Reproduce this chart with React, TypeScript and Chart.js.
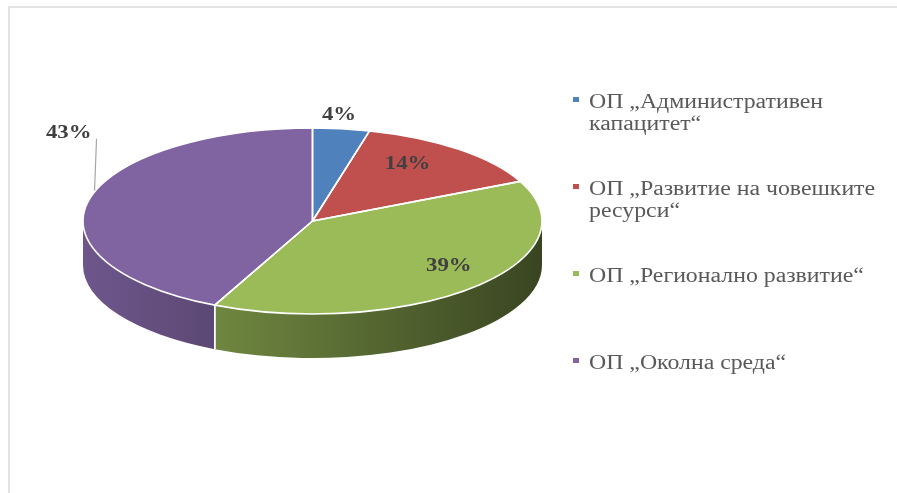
import React, { useEffect, useRef } from "react";
import { Chart, registerables } from "chart.js";

Chart.register(...registerables);

// ---- data ----
const categories = [
  "ОП „Административен капацитет“",
  "ОП „Развитие на човешките ресурси“",
  "ОП „Регионално развитие“",
  "ОП „Околна среда“",
];
const legendLines = [
  ["ОП „Административен", "капацитет“"],
  ["ОП „Развитие на човешките", "ресурси“"],
  ["ОП „Регионално развитие“"],
  ["ОП „Околна среда“"],
];
const shares = [4, 14, 39, 43];
const sliceColors = ["#4F81BD", "#C0504D", "#9BBB59", "#8064A2"];

// ---- layout / style ----
const GEO = { cx: 312.5, cy: 221, rx: 229.5, ry: 93, depth: 44, apexLift: 10 };
const LABEL_FONT = "bold 19px 'Liberation Serif', 'Times New Roman', serif";
const LEGEND_FONT = "20px 'Liberation Serif', 'Times New Roman', serif";
const LABEL_STRETCH = 1.2;
const LEGEND_STRETCH = 1.19;
// placement of each percentage label
const labelPlacement: any[] = [
  { kind: "outside", gap: 14 },
  { kind: "inside", f: 0.65 },
  { kind: "inside", f: 0.84 },
  { kind: "leader", rise: 62 },
];
const LEGEND = { markerX: 573, textX: 589, firstBaseline: 108, lineHeight: 22, step: 87, marker: 6 };

function shade(hex: string, f: number) {
  const n = parseInt(hex.slice(1), 16);
  const r = Math.round(((n >> 16) & 255) * f);
  const g = Math.round(((n >> 8) & 255) * f);
  const b = Math.round((n & 255) * f);
  return `rgb(${r},${g},${b})`;
}

function stretchedText(ctx: CanvasRenderingContext2D, t: string, x: number, y: number, align: CanvasTextAlign, k: number) {
  ctx.save();
  ctx.translate(x, y);
  ctx.scale(k, 1);
  ctx.textAlign = align;
  ctx.fillText(t, 0, 0);
  ctx.restore();
}

const pie3d = {
  id: "pie3d",
  beforeDatasetsDraw(chart: any) {
    const ctx: CanvasRenderingContext2D = chart.ctx;
    const meta = chart.getDatasetMeta(0);
    const colors = chart.data.datasets[0].backgroundColor as string[];
    const { cx, cy, rx, ry, depth } = GEO;
    ctx.save();
    meta.data.forEach((el: any, i: number) => {
      const a1 = Math.max(el.startAngle, 0);
      const a2 = Math.min(el.endAngle, Math.PI);
      if (a2 <= a1) return;
      const grad = ctx.createLinearGradient(cx - rx, 0, cx + rx, 0);
      grad.addColorStop(0, shade(colors[i], 0.86));
      grad.addColorStop(1, shade(colors[i], 0.37));
      ctx.beginPath();
      ctx.ellipse(cx, cy, rx, ry, 0, a1, a2, false);
      ctx.ellipse(cx, cy + depth, rx, ry, 0, a2, a1, true);
      ctx.closePath();
      ctx.fillStyle = grad;
      ctx.fill();
    });
    ctx.strokeStyle = "#ffffff";
    ctx.lineWidth = 1.5;
    meta.data.forEach((el: any) => {
      [el.startAngle, el.endAngle].forEach((a: number) => {
        if (a > 0.001 && a < Math.PI - 0.001) {
          const x = cx + rx * Math.cos(a);
          const y = cy + ry * Math.sin(a);
          ctx.beginPath();
          ctx.moveTo(x, y);
          ctx.lineTo(x, y + depth);
          ctx.stroke();
        }
      });
    });
    ctx.restore();
    const el0 = meta.data[0];
    const R = el0.outerRadius;
    ctx.save();
    ctx.translate(cx, cy);
    ctx.scale(rx / R, ry / R);
    ctx.translate(-el0.x, -el0.y);
  },
  afterDatasetsDraw(chart: any) {
    const ctx: CanvasRenderingContext2D = chart.ctx;
    ctx.restore();
    const meta = chart.getDatasetMeta(0);
    const { cx, cy, rx, ry } = GEO;
    ctx.save();
    ctx.strokeStyle = "#ffffff";
    ctx.lineWidth = 1.6;
    ctx.lineJoin = "round";
    meta.data.forEach((el: any) => {
      ctx.beginPath();
      ctx.moveTo(cx, cy);
      ctx.ellipse(cx, cy, rx, ry, 0, el.startAngle, el.endAngle, false);
      ctx.closePath();
      ctx.stroke();
    });
    ctx.restore();
  },
  afterDraw(chart: any) {
    const ctx: CanvasRenderingContext2D = chart.ctx;
    const meta = chart.getDatasetMeta(0);
    const data = chart.data.datasets[0].data as number[];
    const colors = chart.data.datasets[0].backgroundColor as string[];
    const { cx, cy, rx, ry, apexLift } = GEO;
    ctx.save();
    // percentage labels
    ctx.font = LABEL_FONT;
    ctx.fillStyle = "#404040";
    ctx.textBaseline = "middle";
    meta.data.forEach((el: any, i: number) => {
      const m = (el.startAngle + el.endAngle) / 2;
      const c = Math.cos(m), s = Math.sin(m);
      const p = labelPlacement[i];
      const txt = `${data[i]}%`;
      if (p.kind === "inside") {
        const x = cx + rx * p.f * c;
        const y = cy - apexLift + ry * p.f * s;
        stretchedText(ctx, txt, x, y, "center", LABEL_STRETCH);
      } else if (p.kind === "outside") {
        const ex = cx + rx * c, ey = cy + ry * s;
        stretchedText(ctx, txt, ex + c * p.gap - 4, ey + s * p.gap, "center", LABEL_STRETCH);
      } else {
        const ex = cx + rx * c + 6, ey = cy + ry * s - 10;
        const tx = ex + 2, ty = ey - p.rise + 10;
        ctx.save();
        ctx.strokeStyle = "#a6a6a6";
        ctx.lineWidth = 1.2;
        ctx.beginPath();
        ctx.moveTo(ex, ey);
        ctx.lineTo(tx, ty);
        ctx.stroke();
        ctx.restore();
        stretchedText(ctx, txt, tx - 5, ty - 6, "right", LABEL_STRETCH);
      }
    });
    // legend
    ctx.textBaseline = "alphabetic";
    ctx.font = LEGEND_FONT;
    legendLines.forEach((lines, i) => {
      const base = LEGEND.firstBaseline + i * LEGEND.step;
      ctx.fillStyle = colors[i];
      ctx.fillRect(LEGEND.markerX, base - 8 - LEGEND.marker / 2, LEGEND.marker, LEGEND.marker - 1);
      ctx.fillStyle = "#595959";
      lines.forEach((ln, j) => {
        stretchedText(ctx, ln, LEGEND.textX, base + j * LEGEND.lineHeight, "left", LEGEND_STRETCH);
      });
    });
    // frame
    ctx.strokeStyle = "#e3e3e3";
    ctx.lineWidth = 2;
    ctx.beginPath();
    ctx.moveTo(9, 493);
    ctx.lineTo(9, 7);
    ctx.lineTo(897, 7);
    ctx.stroke();
    ctx.restore();
  },
};

export default function App() {
  const ref = useRef<HTMLCanvasElement | null>(null);
  useEffect(() => {
    document.body.style.margin = "0";
    document.body.style.overflow = "hidden";
    document.body.style.background = "#ffffff";
    const canvas = ref.current!;
    const chart = new Chart(canvas, {
      type: "pie",
      data: {
        labels: categories,
        datasets: [
          {
            data: shares,
            backgroundColor: sliceColors,
            borderWidth: 0,
          },
        ],
      },
      options: {
        responsive: false,
        animation: false,
        devicePixelRatio: 1,
        layout: { padding: { left: 83, right: 355, top: 0, bottom: 34 } },
        plugins: {
          legend: { display: false },
          tooltip: { enabled: false },
          title: { display: false },
        },
      },
      plugins: [pie3d],
    });
    return () => chart.destroy();
  }, []);
  return (
    <div style={{ width: 897, height: 493, background: "#fff" }}>
      <canvas ref={ref} width={897} height={493} style={{ display: "block", width: 897, height: 493 }} />
    </div>
  );
}
